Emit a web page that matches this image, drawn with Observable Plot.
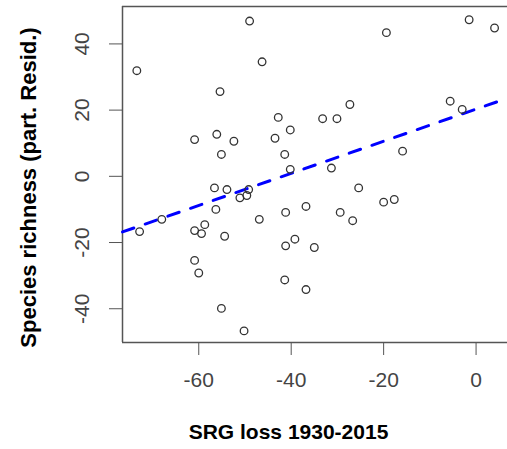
<!DOCTYPE html>
<html>
<head>
<meta charset="utf-8">
<script src="https://cdn.jsdelivr.net/npm/d3@7"></script>
<script src="https://cdn.jsdelivr.net/npm/@observablehq/plot@0.6"></script>
<style>
  html, body { margin: 0; padding: 0; background: #fff; overflow: hidden; }
</style>
</head>
<body>
<div id="chart"></div>
<script>
const loss = [-49.0,-46.3,-73.4,-55.4,-42.8,-40.2,-60.9,-56.1,-52.4,-43.5,-55.1,-41.4,-40.2,
  -19.4,-1.5,4.0,-27.3,-33.2,-30.1,-5.6,-3.0,-15.9,-31.3,
  -72.8,-68.0,-56.6,-53.9,-51.1,-49.6,-49.2,-56.3,-60.9,-58.7,-59.4,-54.4,-46.9,-41.2,-36.8,-60.9,-60.0,-41.2,-39.2,-41.4,-36.8,-55.1,-50.2,
  -25.4,-29.4,-26.7,-20.0,-17.7,-35.0];
const resid = [46.9,34.6,31.9,25.6,17.8,14.0,11.1,12.7,10.6,11.5,6.6,6.6,2.1,
  43.4,47.3,44.8,21.7,17.4,17.4,22.7,20.2,7.6,2.5,
  -16.7,-13.0,-3.5,-4.0,-6.5,-5.8,-4.0,-10.0,-16.4,-14.6,-17.3,-18.1,-13.0,-10.9,-9.1,-25.4,-29.2,-21.0,-19.0,-31.3,-34.2,-39.9,-46.7,
  -3.5,-10.9,-13.4,-7.8,-7.0,-21.5];
const fitX = [-76.5, 6.8];
const fitY = [-16.8, 23.6];
const xTicks = [-60, -40, -20, 0];
const yTicks = [-40, -20, 0, 20, 40];
const xTitle = "SRG loss 1930-2015";
const yTitle = "Species richness (part. Resid.)";

const points = loss.map((x, i) => ({x, y: resid[i]}));
const fit = fitX.map((x, i) => ({x, y: fitY[i]}));
const xDomain = [-76.5, 6.8];
const yDomain = [-50.2, 51.3];
const axisColor = "#555";
const labelColor = "#444";
const titleFont = "'Liberation Sans', Arial, sans-serif";

const chart = Plot.plot({
  width: 507,
  height: 449,
  marginLeft: 122,
  marginRight: 0,
  marginTop: 6,
  marginBottom: 107,
  style: {fontFamily: "'Liberation Sans', Arial, sans-serif", background: "#fff"},
  x: {domain: xDomain},
  y: {domain: yDomain},
  marks: [
    Plot.ruleX([xDomain[0]], {stroke: axisColor, strokeWidth: 1.5}),
    Plot.ruleY([yDomain[0], yDomain[1]], {stroke: axisColor, strokeWidth: 1.5}),
    Plot.axisX({ticks: xTicks, tickSize: 13, stroke: axisColor, tickFormat: () => "", label: null}),
    Plot.axisY({ticks: yTicks, tickSize: 13, stroke: axisColor, tickFormat: () => "", label: null}),
    Plot.text(xTicks, {x: d => d, text: d => String(d), frameAnchor: "bottom", dy: 44, fontSize: 21, fill: labelColor}),
    Plot.text(yTicks, {y: d => d, text: d => String(d), frameAnchor: "left", textAnchor: "middle", dx: -40, rotate: -90, fontSize: 21, fill: labelColor}),
    Plot.line(fit, {x: "x", y: "y", stroke: "#0000ff", strokeWidth: 3, strokeDasharray: "12,12"}),
    Plot.dot(points, {x: "x", y: "y", r: 3.8, stroke: "#333", strokeWidth: 1.3, fill: "none"}),
    Plot.text([xTitle], {text: d => d, frameAnchor: "bottom-left", textAnchor: "middle", dx: 166, dy: 96, fontSize: 21, fontWeight: "bold", fill: "#000", fontFamily: titleFont}),
    Plot.text([yTitle], {text: d => d, frameAnchor: "left", textAnchor: "middle", dx: -94, dy: 13, rotate: -90, fontSize: 22, fontWeight: "bold", fill: "#000", fontFamily: titleFont})
  ]
});
document.getElementById("chart").appendChild(chart);
</script>
</body>
</html>
